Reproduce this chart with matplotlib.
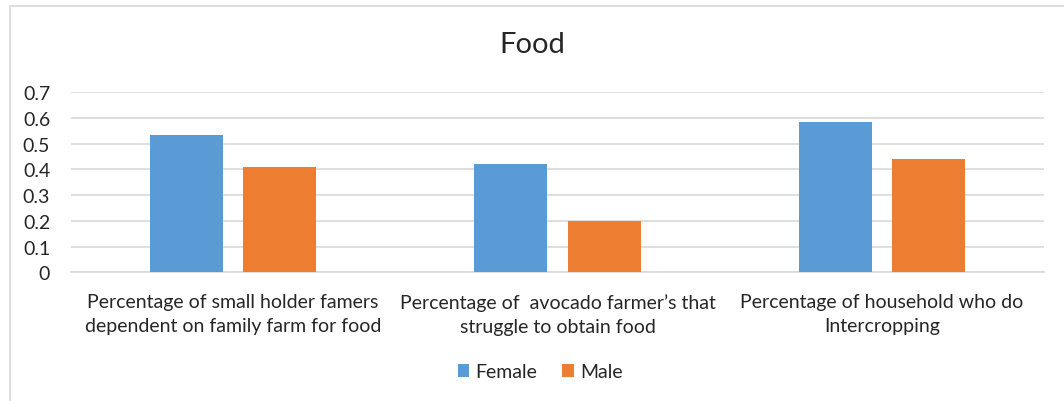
import numpy as np
import matplotlib.pyplot as plt
from matplotlib.patches import Rectangle

# Dados
categorias = ["Percentage of small holder famers\ndependent on family farm for food",
              "Percentage of  avocado farmer\u2019s that\nstruggle to obtain food",
              "Percentage of household who do\nIntercropping"]
female = [0.535, 0.422, 0.584]
male = [0.41, 0.20, 0.441]
yticks = [0, 0.1, 0.2, 0.3, 0.4, 0.5, 0.6, 0.7]

plt.rcParams['font.family'] = ['Lato', 'DejaVu Sans']

fig = plt.figure(figsize=(10.64, 4.02), dpi=100)
ax = fig.add_axes([71 / 1064, 128.7 / 402, (1044 - 71) / 1064, 180.0 / 402])

x = np.arange(len(categorias))
w = 0.225
d = 0.1435
ax.bar(x - d, female, w, color='#5B9BD5', label='Female', zorder=3)
ax.bar(x + d, male, w, color='#ED7D31', label='Male', zorder=3)

ax.set_xlim(-0.5, 2.5)
ax.set_ylim(0, 0.7)
ax.set_yticks(yticks)
ax.set_yticklabels([f"{v:g}" for v in yticks])
ax.yaxis.grid(True, color='#D9D9D9', lw=1.2, zorder=0)
ax.set_xticks(x)
ax.set_xticklabels(categorias, linespacing=1.5)
ax.tick_params(axis='both', length=0, labelsize=14, colors='#262626')
ax.tick_params(axis='x', pad=15)
ax.tick_params(axis='y', pad=15)
for s in ['top', 'left', 'right']:
    ax.spines[s].set_visible(False)
ax.spines['bottom'].set_color('#D9D9D9')
ax.spines['bottom'].set_linewidth(1.2)

fig.text(0.5, 1 - 45 / 402, "Food", ha='center', va='center', fontsize=21, color='#262626')

fig.legend(loc='center', bbox_to_anchor=(540 / 1064, 1 - 373 / 402), ncol=2, frameon=False,
           fontsize=14, handlelength=0.6, handleheight=0.6, handletextpad=0.3, columnspacing=1.3,
           labelcolor='#262626')

# moldura do gráfico
fig.patches.append(Rectangle((10 / 1064, -0.1), 1.2, 1 - 7 / 402 + 0.1, transform=fig.transFigure,
                             fill=False, edgecolor='#D9D9D9', lw=1.2))

fig.savefig('out.png', dpi=100)
